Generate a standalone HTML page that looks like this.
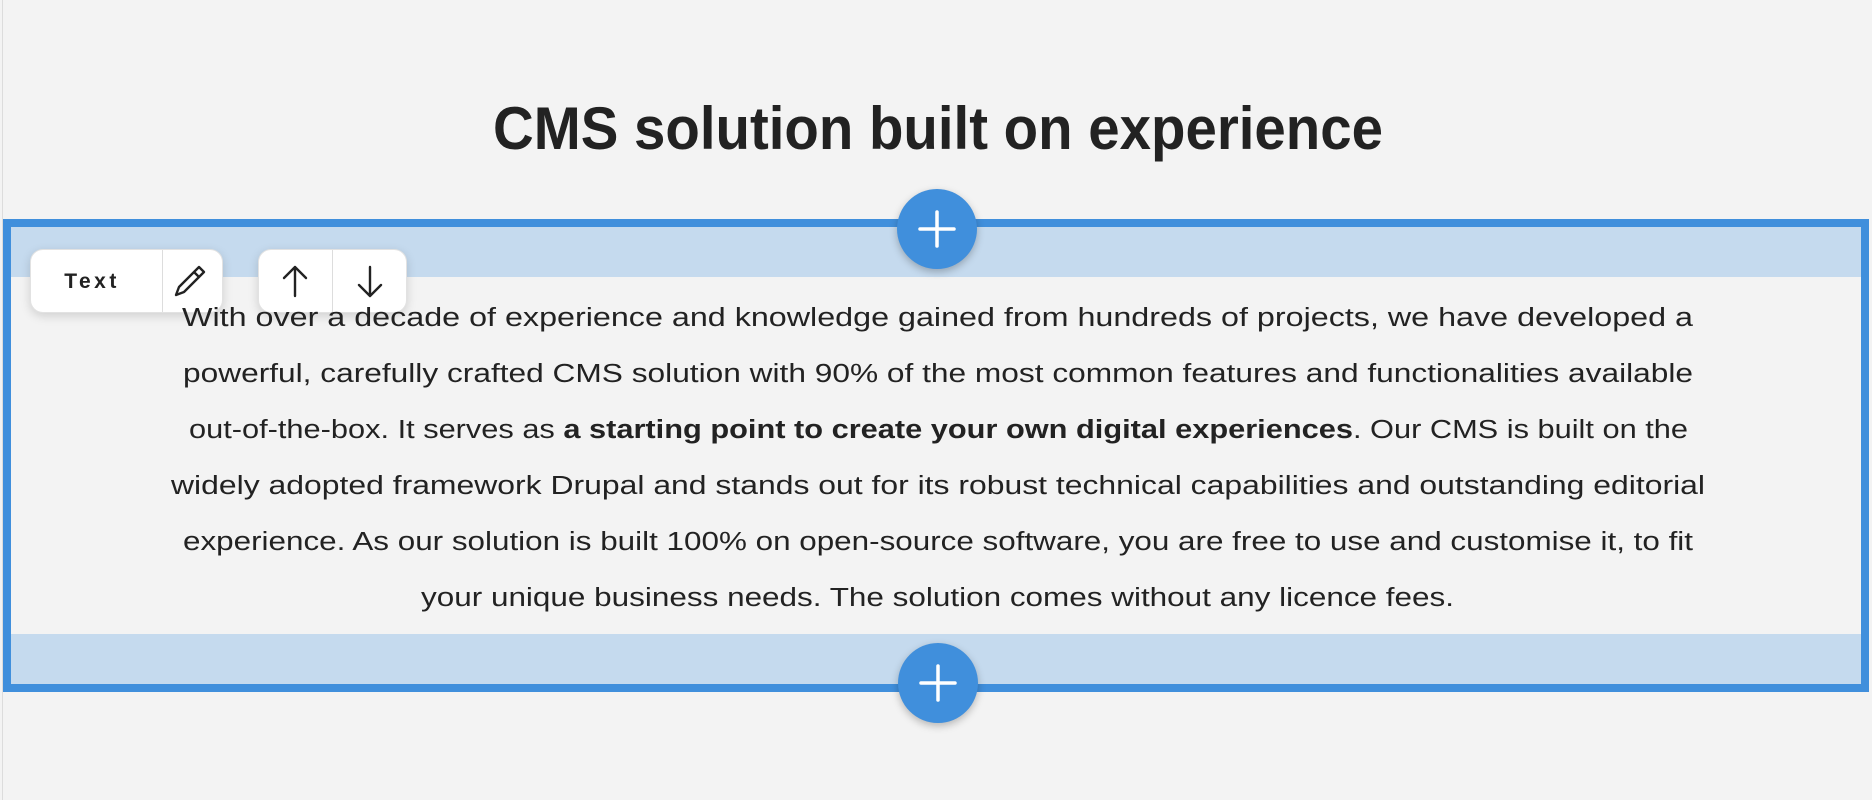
<!DOCTYPE html>
<html><head><meta charset="utf-8"><style>
html,body{margin:0;padding:0;width:1872px;height:800px;overflow:hidden;background:#f3f3f3;font-family:"Liberation Sans",sans-serif;}
.vline{position:absolute;left:2px;top:0;width:1px;height:800px;background:#dcdcdc}
.frame{position:absolute;left:3px;top:219px;width:1866px;height:473px;box-sizing:border-box;border:8px solid #408fdc}
.band{position:absolute;left:11px;width:1850px;height:50px;background:#c5daee}
.circ{position:absolute;width:80px;height:80px;border-radius:50%;background:#408fdc;box-shadow:0 3px 8px rgba(0,0,0,.25)}
.tb{position:absolute;top:249px;height:64px;background:#fff;border-radius:13px;box-shadow:0 3px 10px rgba(0,0,0,.15);border:1px solid #e2e2e2;box-sizing:border-box}
svg{position:absolute;left:0;top:0}
</style></head><body>
<div class="vline"></div>
<div class="band" style="top:227px"></div>
<div class="band" style="top:634px"></div>
<div class="frame"></div>
<div class="circ" style="left:897px;top:189px"></div>
<div class="circ" style="left:898px;top:643px"></div>
<div class="tb" style="left:30px;width:193px"><div style="position:absolute;left:131px;top:0;width:1px;height:62px;background:#ddd"></div></div>
<div class="tb" style="left:258px;width:149px"><div style="position:absolute;left:73px;top:0;width:1px;height:62px;background:#ddd"></div></div>
<svg width="1872" height="800" xmlns="http://www.w3.org/2000/svg">
<g stroke="#fff" stroke-width="3.5" stroke-linecap="round">
<line x1="920" y1="229" x2="954" y2="229"/><line x1="937" y1="212" x2="937" y2="246"/>
<line x1="921" y1="683" x2="955" y2="683"/><line x1="938" y1="666" x2="938" y2="700"/>
</g>
<text x="493" y="149" font-size="60" font-weight="bold" fill="#222" textLength="890" lengthAdjust="spacingAndGlyphs">CMS solution built on experience</text>
<g font-size="25.5" fill="#222">
<text x="182" y="326" textLength="1511" lengthAdjust="spacingAndGlyphs">With over a decade of experience and knowledge gained from hundreds of projects, we have developed a</text>
<text x="183" y="382" textLength="1510" lengthAdjust="spacingAndGlyphs">powerful, carefully crafted CMS solution with 90% of the most common features and functionalities available</text>
<text x="189" y="438" textLength="1499" lengthAdjust="spacingAndGlyphs">out-of-the-box. It serves as <tspan font-weight="bold">a starting point to create your own digital experiences</tspan>. Our CMS is built on the</text>
<text x="171" y="494" textLength="1534" lengthAdjust="spacingAndGlyphs">widely adopted framework Drupal and stands out for its robust technical capabilities and outstanding editorial</text>
<text x="183" y="550" textLength="1510" lengthAdjust="spacingAndGlyphs">experience. As our solution is built 100% on open-source software, you are free to use and customise it, to fit</text>
<text x="421" y="606" textLength="1033" lengthAdjust="spacingAndGlyphs">your unique business needs. The solution comes without any licence fees.</text>
</g>
<text x="92" y="288" font-size="21" font-weight="bold" fill="#222" text-anchor="middle" letter-spacing="3.5">Text</text>
<g fill="none" stroke="#222" stroke-width="2.4" stroke-linecap="round" stroke-linejoin="round">
<path d="M199 267 l5 5 l-20 20 l-8 3 l3 -8 z M194 272 l5 5"/>
<path d="M295 296 V267 M284 278 L295 267 L306 278"/>
<path d="M370 267 V296 M359 285 L370 296 L381 285"/>
</g>
</svg>
</body></html>
